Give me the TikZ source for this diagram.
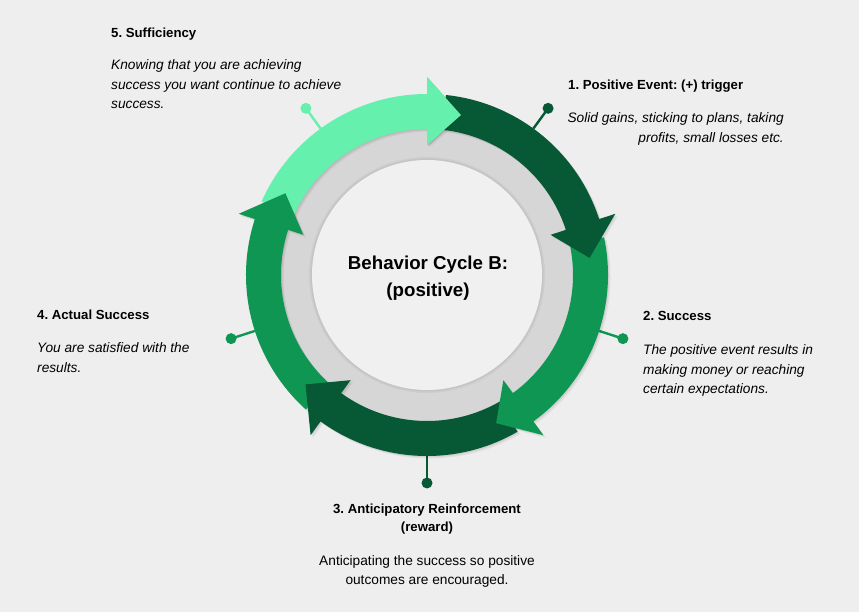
\documentclass[tikz,border=0pt]{standalone}
\usepackage{fontspec}
\setmainfont{Liberation Sans}
\frenchspacing
\definecolor{bg}{HTML}{EEEEEE}
\definecolor{ringgray}{HTML}{D6D6D6}
\definecolor{innergray}{HTML}{F0F0F0}
\definecolor{lightg}{HTML}{66F0AD}
\definecolor{darkg}{HTML}{075834}
\definecolor{midg}{HTML}{109653}
\newcommand\arrowpath[3]{%
  (#1:181) arc[start angle=#1, end angle=#2, radius=181]
    -- (#2:198) -- (#3:163.5) -- (#2:130) -- (#2:146)
    arc[start angle=#2, end angle=#1, radius=146] -- cycle}
\newcommand\cyclearrow[4]{\fill[#1] \arrowpath{#2}{#3}{#4};}
\newcommand\arrowshadow[3]{%
  \fill[black, opacity=0.06, shift={(2.5,-2.5)}] \arrowpath{#1}{#2}{#3};
  \fill[black, opacity=0.07, shift={(1.2,-1.2)}] \arrowpath{#1}{#2}{#3};}
\tikzset{
  pindot/.style={circle, inner sep=0pt, minimum size=11pt},
  pinline/.style={line width=2.4pt},
  ttl/.style={inner sep=0pt, font=\fontsize{13.2}{19.5}\selectfont\bfseries},
  desc/.style={inner sep=0pt, font=\fontsize{13.7}{19.5}\selectfont\itshape},
  plain/.style={inner sep=0pt, font=\fontsize{13.7}{18.5}\selectfont},
}
\begin{document}
\begin{tikzpicture}[x=1pt,y=1pt]
\useasboundingbox[fill=bg] (-427,275) rectangle (432,-337);
% rings
\fill[ringgray] (0,0) circle (150);
\fill[black, opacity=0.04] (0,0) circle (118);
\fill[black, opacity=0.04] (0,0) circle (116.5);
\fill[innergray] (0,0) circle (115);
% pins
\coordinate (r1) at (54:181);
\coordinate (r2) at (-18:181);
\coordinate (r3) at (-90:181);
\coordinate (r4) at (-162:181);
\coordinate (r5) at (126:181);
\node[pindot, fill=darkg] (d1) at (54:206) {};
\node[pindot, fill=midg] (d2) at (-18:206) {};
\node[pindot, fill=darkg] (d3) at (-90:208) {};
\node[pindot, fill=midg] (d4) at (-162:206) {};
\node[pindot, fill=lightg] (d5) at (126:206) {};
\draw[pinline, darkg] (r1) -- (d1.center);
\draw[pinline, midg] (r2) -- (d2.center);
\draw[pinline, darkg] (r3) -- (d3.center);
\draw[pinline, midg] (r4) -- (d4.center);
\draw[pinline, lightg] (r5) -- (d5.center);
% arrow shadows
\arrowshadow{-204}{-270}{-282}
\arrowshadow{-132}{-198}{-210}
\arrowshadow{-60}{-126}{-138}
\arrowshadow{12}{-54}{-65}
\arrowshadow{84}{18}{6}
% arrows
\cyclearrow{lightg}{-204}{-270}{-282}
\cyclearrow{midg}{-132}{-198}{-210}
\cyclearrow{darkg}{-60}{-126}{-138}
\cyclearrow{midg}{12}{-54}{-65}
\cyclearrow{darkg}{84}{18}{6}
\fill[black, opacity=0.07, shift={(1.2,-1.2)}] (-270:198) -- (-282:163.5) -- (-270:130) -- cycle;
\fill[lightg] (-270:198) -- (-282:163.5) -- (-270:130) -- cycle;
% centre text
\node[inner sep=0pt, align=center, font=\fontsize{18.7}{26.5}\selectfont\bfseries, anchor=north] (ctr) at (1,19) {Behavior Cycle B:\\(positive)};
% texts
\node[ttl, anchor=north west] (t5) at (-316,247.5) {5. Sufficiency};
\node[desc, anchor=north west, align=left] (x5) at (-316,215.5) {Knowing that you are achieving\\success you want continue to achieve\\success.};
\node[ttl, anchor=north west] (t1) at (141,195.5) {1. Positive Event: (+) trigger};
\node[desc, anchor=north east, align=right] (x1) at (357,162.5) {Solid gains, sticking to plans, taking\\profits, small losses etc.};
\node[ttl, anchor=north west] (t4) at (-390,-34.5) {4. Actual Success};
\node[desc, anchor=north west, align=left] (x4) at (-390,-67.5) {You are satisfied with the\\results.};
\node[ttl, anchor=north west] (t2) at (216,-36.5) {2. Success};
\node[desc, anchor=north west, align=left] (x2) at (216,-69.5) {The positive event results in\\making money or reaching\\certain expectations.};
\node[ttl, anchor=north, align=center, font=\fontsize{13.2}{18.5}\selectfont\bfseries] (t3) at (0,-228.5) {3. Anticipatory Reinforcement\\(reward)};
\node[plain, anchor=north, align=center] (x3) at (0,-280.5) {Anticipating the success so positive\\outcomes are encouraged.};
\end{tikzpicture}
\end{document}
